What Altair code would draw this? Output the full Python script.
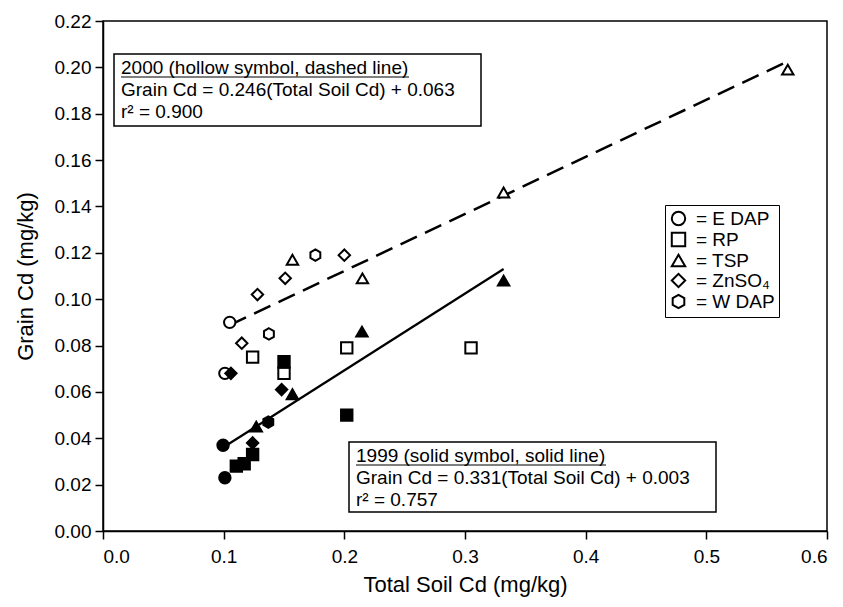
import altair as alt
import pandas as pd

# ---- data ----
treatments = ["E DAP", "RP", "TSP", "ZnSO₄", "W DAP"]

# 2000 (hollow symbols)
h_treat = ["E DAP", "E DAP", "RP", "RP", "RP", "RP", "TSP", "TSP", "TSP", "TSP",
           "ZnSO₄", "ZnSO₄", "ZnSO₄", "ZnSO₄", "W DAP", "W DAP"]
h_x = [0.105, 0.101, 0.124, 0.150, 0.202, 0.305, 0.157, 0.215, 0.332, 0.5675,
       0.115, 0.128, 0.151, 0.200, 0.1375, 0.176]
h_y = [0.090, 0.068, 0.075, 0.068, 0.079, 0.079, 0.117, 0.109, 0.146, 0.199,
       0.081, 0.102, 0.109, 0.119, 0.085, 0.119]

# 1999 (solid symbols)
s_treat = ["E DAP", "E DAP", "RP", "RP", "RP", "RP", "RP", "TSP", "TSP", "TSP", "TSP",
           "ZnSO₄", "ZnSO₄", "ZnSO₄", "W DAP"]
s_x = [0.0995, 0.101, 0.150, 0.202, 0.124, 0.1105, 0.117, 0.332, 0.2146, 0.127, 0.157,
       0.106, 0.148, 0.124, 0.137]
s_y = [0.037, 0.023, 0.073, 0.050, 0.033, 0.028, 0.029, 0.108, 0.086, 0.045, 0.059,
       0.068, 0.061, 0.038, 0.047]

# regression lines (end points)
line2000_x = [0.105, 0.5675]
line2000_y = [0.0888, 0.2026]
line1999_x = [0.0995, 0.332]
line1999_y = [0.036, 0.113]

x_ticks = [0.0, 0.1, 0.2, 0.3, 0.4, 0.5, 0.6]
y_ticks = [0.00, 0.02, 0.04, 0.06, 0.08, 0.10, 0.12, 0.14, 0.16, 0.18, 0.20, 0.22]

box2000 = "2000 (hollow symbol, dashed line)\nGrain Cd = 0.246(Total Soil Cd) + 0.063\nr²  = 0.900"
box1999 = "1999 (solid symbol, solid line)\nGrain Cd = 0.331(Total Soil Cd) + 0.003\nr²  = 0.757"

hexagon = "M0,-1L0.866,-0.5L0.866,0.5L0,1L-0.866,0.5L-0.866,-0.5Z"
shapes = ["circle", "square", "triangle-up", "diamond", hexagon]

# ---- build tables ----
pts = pd.concat([
    pd.DataFrame({"x": h_x, "y": h_y, "treatment": h_treat, "year": "2000"}),
    pd.DataFrame({"x": s_x, "y": s_y, "treatment": s_treat, "year": "1999"}),
], ignore_index=True)
l2000 = pd.DataFrame({"x": line2000_x, "y": line2000_y})
l1999 = pd.DataFrame({"x": line1999_x, "y": line1999_y})
one = pd.DataFrame({"a": [0]})

FONT = "Liberation Sans"
xs = alt.Scale(domain=[0, 0.6], nice=False, zero=False)
ys = alt.Scale(domain=[0, 0.22], nice=False, zero=False)
xaxis = alt.Axis(values=x_ticks, format=".1f", title="Total Soil Cd (mg/kg)", grid=False,
                 tickSize=8, labelPadding=8, titlePadding=8)
yaxis = alt.Axis(values=y_ticks, format=".2f", title="Grain Cd (mg/kg)", grid=False,
                 tickSize=8, labelPadding=4, titlePadding=17)
X = alt.X("x:Q", scale=xs, axis=xaxis)
Y = alt.Y("y:Q", scale=ys, axis=yaxis)

rect2000 = alt.Chart(one).mark_rect(fill="white", stroke="black", strokeWidth=1.5).encode(
    x=alt.value(11), x2=alt.value(378), y=alt.value(33), y2=alt.value(105))
rect1999 = alt.Chart(one).mark_rect(fill="white", stroke="black", strokeWidth=1.5).encode(
    x=alt.value(246), x2=alt.value(613), y=alt.value(421), y2=alt.value(491))
txt2000 = alt.Chart(one).mark_text(align="left", baseline="alphabetic", fontSize=19, font=FONT,
                                   lineBreak="\n", lineHeight=22, color="black").encode(
    x=alt.value(18), y=alt.value(53), text=alt.value(box2000))
txt1999 = alt.Chart(one).mark_text(align="left", baseline="alphabetic", fontSize=19, font=FONT,
                                   lineBreak="\n", lineHeight=22, color="black").encode(
    x=alt.value(253), y=alt.value(441), text=alt.value(box1999))
ul2000 = alt.Chart(one).mark_rule(color="black", strokeWidth=1.2).encode(
    x=alt.value(18), x2=alt.value(306), y=alt.value(56))
ul1999 = alt.Chart(one).mark_rule(color="black", strokeWidth=1.2).encode(
    x=alt.value(253), x2=alt.value(503), y=alt.value(444))

dash = alt.Chart(l2000).mark_line(color="black", strokeWidth=2.5, strokeDash=[18, 9]).encode(x=X, y=Y)
solid = alt.Chart(l1999).mark_line(color="black", strokeWidth=2.2).encode(x=X, y=Y)

points = alt.Chart(pts).mark_point(filled=True, size=130, stroke="black", strokeWidth=2, opacity=1).encode(
    x=X, y=Y,
    shape=alt.Shape("treatment:N", scale=alt.Scale(domain=treatments, range=shapes),
                    legend=alt.Legend(title=None, orient="none", legendX=562, legendY=184,
                                      strokeColor="black", fillColor="white", padding=4,
                                      labelExpr="'= ' + datum.label", labelFontSize=19,
                                      labelFont=FONT, labelColor="black", symbolSize=180,
                                      symbolFillColor="white", symbolStrokeColor="black",
                                      symbolStrokeWidth=2, rowPadding=-3, labelOffset=8)),
    fill=alt.Fill("year:N", scale=alt.Scale(domain=["1999", "2000"], range=["black", "white"]),
                  legend=None),
)

chart = alt.layer(rect2000, rect1999, txt2000, txt1999, ul2000, ul1999, dash, solid, points).properties(
    width=724, height=510, autosize="none",
    padding={"left": 95, "top": 13, "right": 8, "bottom": 76},
).configure(font=FONT).configure_view(stroke="black", strokeWidth=1.5).configure_axis(
    domainColor="black", domainWidth=1.5, tickColor="black", tickWidth=1.5,
    labelColor="black", labelFontSize=19, labelFont=FONT,
    titleColor="black", titleFontSize=22, titleFont=FONT, titleFontWeight="normal",
)

chart.save("out.html", embed_options={"renderer": "svg", "actions": False})
